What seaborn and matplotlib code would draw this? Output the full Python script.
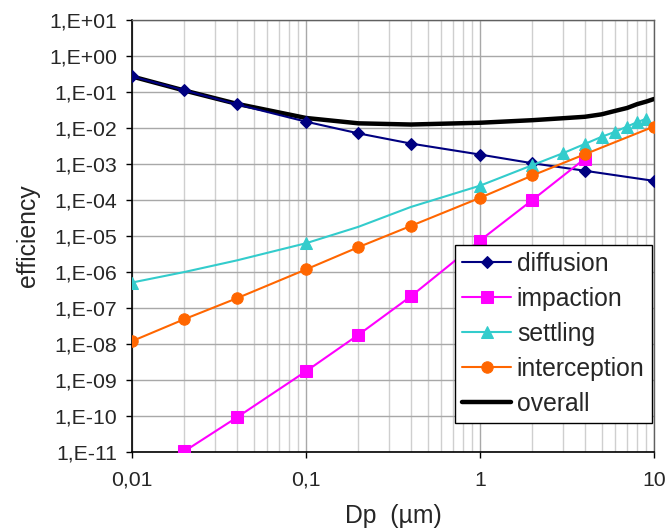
"""
Particle collection efficiency versus particle diameter,
one curve per deposition mechanism plus the overall curve.
"""

import matplotlib
matplotlib.use("Agg")
import matplotlib.pyplot as plt
import seaborn as sns


# Data

dp_main = [0.01, 0.02, 0.04, 0.1, 0.2, 0.4, 1, 2, 4, 10]
diffusion = [0.27, 0.111, 0.0455, 0.015, 0.0071, 0.0037,
             0.00183, 0.00105, 0.00065, 0.00034]
interception = [1.2e-8, 4.9e-8, 1.86e-7, 1.18e-6, 4.9e-6, 1.9e-5,
                1.15e-4, 4.8e-4, 1.86e-3, 1.1e-2]

dp_impaction = [0.01, 0.02, 0.04, 0.1, 0.2, 0.4, 1, 2, 4]
impaction = [1.4e-12, 1.05e-11, 9.1e-11, 1.75e-9, 1.8e-8, 2.1e-7,
             7.5e-6, 1.0e-4, 1.4e-3]

dp_settling = [0.01, 0.02, 0.04, 0.1, 0.2, 0.4, 1, 2, 3, 4, 5, 6, 7, 8, 9]
settling = [5.1e-7, 1.0e-6, 2.1e-6, 6.3e-6, 1.8e-5, 6.4e-5, 2.5e-4,
            9.3e-4, 2.0e-3, 3.6e-3, 5.7e-3, 7.9e-3, 1.1e-2, 1.45e-2, 1.8e-2]
settling_marked = [0, 3, 6, 7, 8, 9, 10, 11, 12, 13, 14]

dp_overall = [0.01, 0.02, 0.04, 0.1, 0.2, 0.4, 1, 2, 3, 4, 5, 6, 7, 8, 9, 10]
overall = [0.27, 0.11, 0.047, 0.019, 0.0135, 0.0125, 0.014, 0.0165,
           0.0187, 0.0205, 0.024, 0.030, 0.036, 0.046, 0.054, 0.064]

x_ticks = [0.01, 0.1, 1, 10]
x_tick_labels = ["0,01", "0,1", "1", "10"]
y_ticks = [1e-11, 1e-10, 1e-9, 1e-8, 1e-7, 1e-6, 1e-5, 1e-4,
           1e-3, 1e-2, 1e-1, 1e0, 1e1]
y_tick_labels = ["1,E-11", "1,E-10", "1,E-09", "1,E-08", "1,E-07",
                 "1,E-06", "1,E-05", "1,E-04", "1,E-03", "1,E-02",
                 "1,E-01", "1,E+00", "1,E+01"]


sns.set_style("white")
plt.rcParams["font.family"] = ["Liberation Sans", "DejaVu Sans"]

fig, ax = plt.subplots(figsize=(6.67, 5.31), dpi=100)
fig.subplots_adjust(left=0.198, right=0.9805, top=0.9623, bottom=0.1488)

ax.set_xscale("log")
ax.set_yscale("log")
ax.set_xlim(0.01, 10)
ax.set_ylim(1e-11, 1e1)

# grid: vertical major + minor, horizontal decades only
ax.set_axisbelow(True)
ax.grid(True, which="major", axis="both", color="#a8a8a8", linewidth=1)
ax.grid(True, which="minor", axis="x", color="#cfcfcf", linewidth=1)

sns.lineplot(x=dp_main, y=diffusion, ax=ax, color="#000080",
             linewidth=1.5, marker="D", markersize=6.2,
             markeredgecolor="#000080", label="diffusion", zorder=4)
sns.lineplot(x=dp_impaction, y=impaction, ax=ax, color="#ff00ff",
             linewidth=1.5, marker="s", markersize=8,
             markeredgecolor="#ff00ff", label="impaction", zorder=4)
sns.lineplot(x=dp_settling, y=settling, ax=ax, color="#33cccc",
             linewidth=1.5, marker="^", markersize=8,
             markeredgecolor="#33cccc", markevery=settling_marked,
             label="settling", zorder=4)
sns.lineplot(x=dp_main, y=interception, ax=ax, color="#ff6600",
             linewidth=1.5, marker="o", markersize=8.2,
             markeredgecolor="#ff6600", label="interception", zorder=4)
sns.lineplot(x=dp_overall, y=overall, ax=ax, color="black",
             linewidth=3.2, label="overall", zorder=3)

ax.set_xticks(x_ticks, x_tick_labels)
ax.set_yticks(y_ticks, y_tick_labels)
ax.yaxis.set_minor_locator(matplotlib.ticker.NullLocator())
ax.tick_params(axis="both", which="major", labelsize=15.3, color="black",
               length=4.5, width=1, direction="out")
ax.tick_params(axis="y", which="major", left=True, pad=6.5)
ax.tick_params(axis="x", which="major", bottom=True, pad=9)
ax.tick_params(axis="x", which="minor", length=0)

for side in ("left", "bottom"):
    ax.spines[side].set_color("black")
    ax.spines[side].set_linewidth(1.2)
for side in ("top", "right"):
    ax.spines[side].set_color("#606060")
    ax.spines[side].set_linewidth(1)

ax.set_xlabel("Dp  (\u00b5m)", fontsize=17.8, labelpad=10)
ax.set_ylabel("efficiency", fontsize=17.8)
ax.yaxis.set_label_coords(-0.176, 0.5)

leg = ax.legend(loc="lower right", bbox_to_anchor=(0.9962, 0.0671),
                borderaxespad=0, fontsize=17.8, frameon=True,
                fancybox=False, framealpha=1, edgecolor="black",
                labelspacing=0.44, handlelength=1.95, handletextpad=0.25,
                borderpad=0.3)
leg.get_frame().set_linewidth(1)

fig.savefig("out.png", dpi=100)
plt.close(fig)
